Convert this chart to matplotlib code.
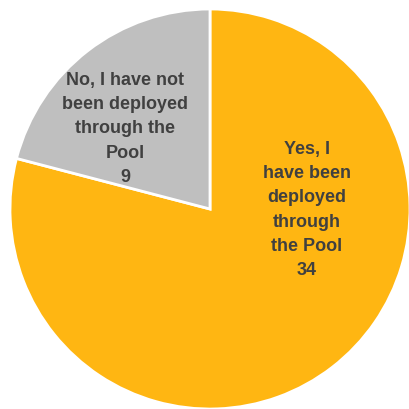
import matplotlib.pyplot as plt

# Data
labels = ["Yes, I\nhave been\ndeployed\nthrough\nthe Pool", "No, I have not\nbeen deployed\nthrough the\nPool"]
counts = [34, 9]
colors = ["#FFB612", "#BFBFBF"]

# label anchor positions (axes data units, pie radius = 1)
label_pos = [(0.485, 0.0), (-0.425, 0.405)]

fig = plt.figure(figsize=(4.09, 4.10), dpi=100)
ax = fig.add_axes([10 / 409, 0, 400 / 409, 400 / 410])

ax.pie(counts, colors=colors, startangle=90, counterclock=False,
       radius=1, wedgeprops=dict(edgecolor="white", linewidth=2))

for lab, val, (x, y) in zip(labels, counts, label_pos):
    ax.text(x, y, f"{lab}\n{val}", ha="center", va="center",
            fontsize=13, fontweight="bold", color="#404040",
            family="Liberation Sans", linespacing=1.55)

ax.set_xlim(-1, 1)
ax.set_ylim(-1, 1)
ax.set_aspect("equal")
ax.axis("off")

fig.savefig("out.png", dpi=100)
